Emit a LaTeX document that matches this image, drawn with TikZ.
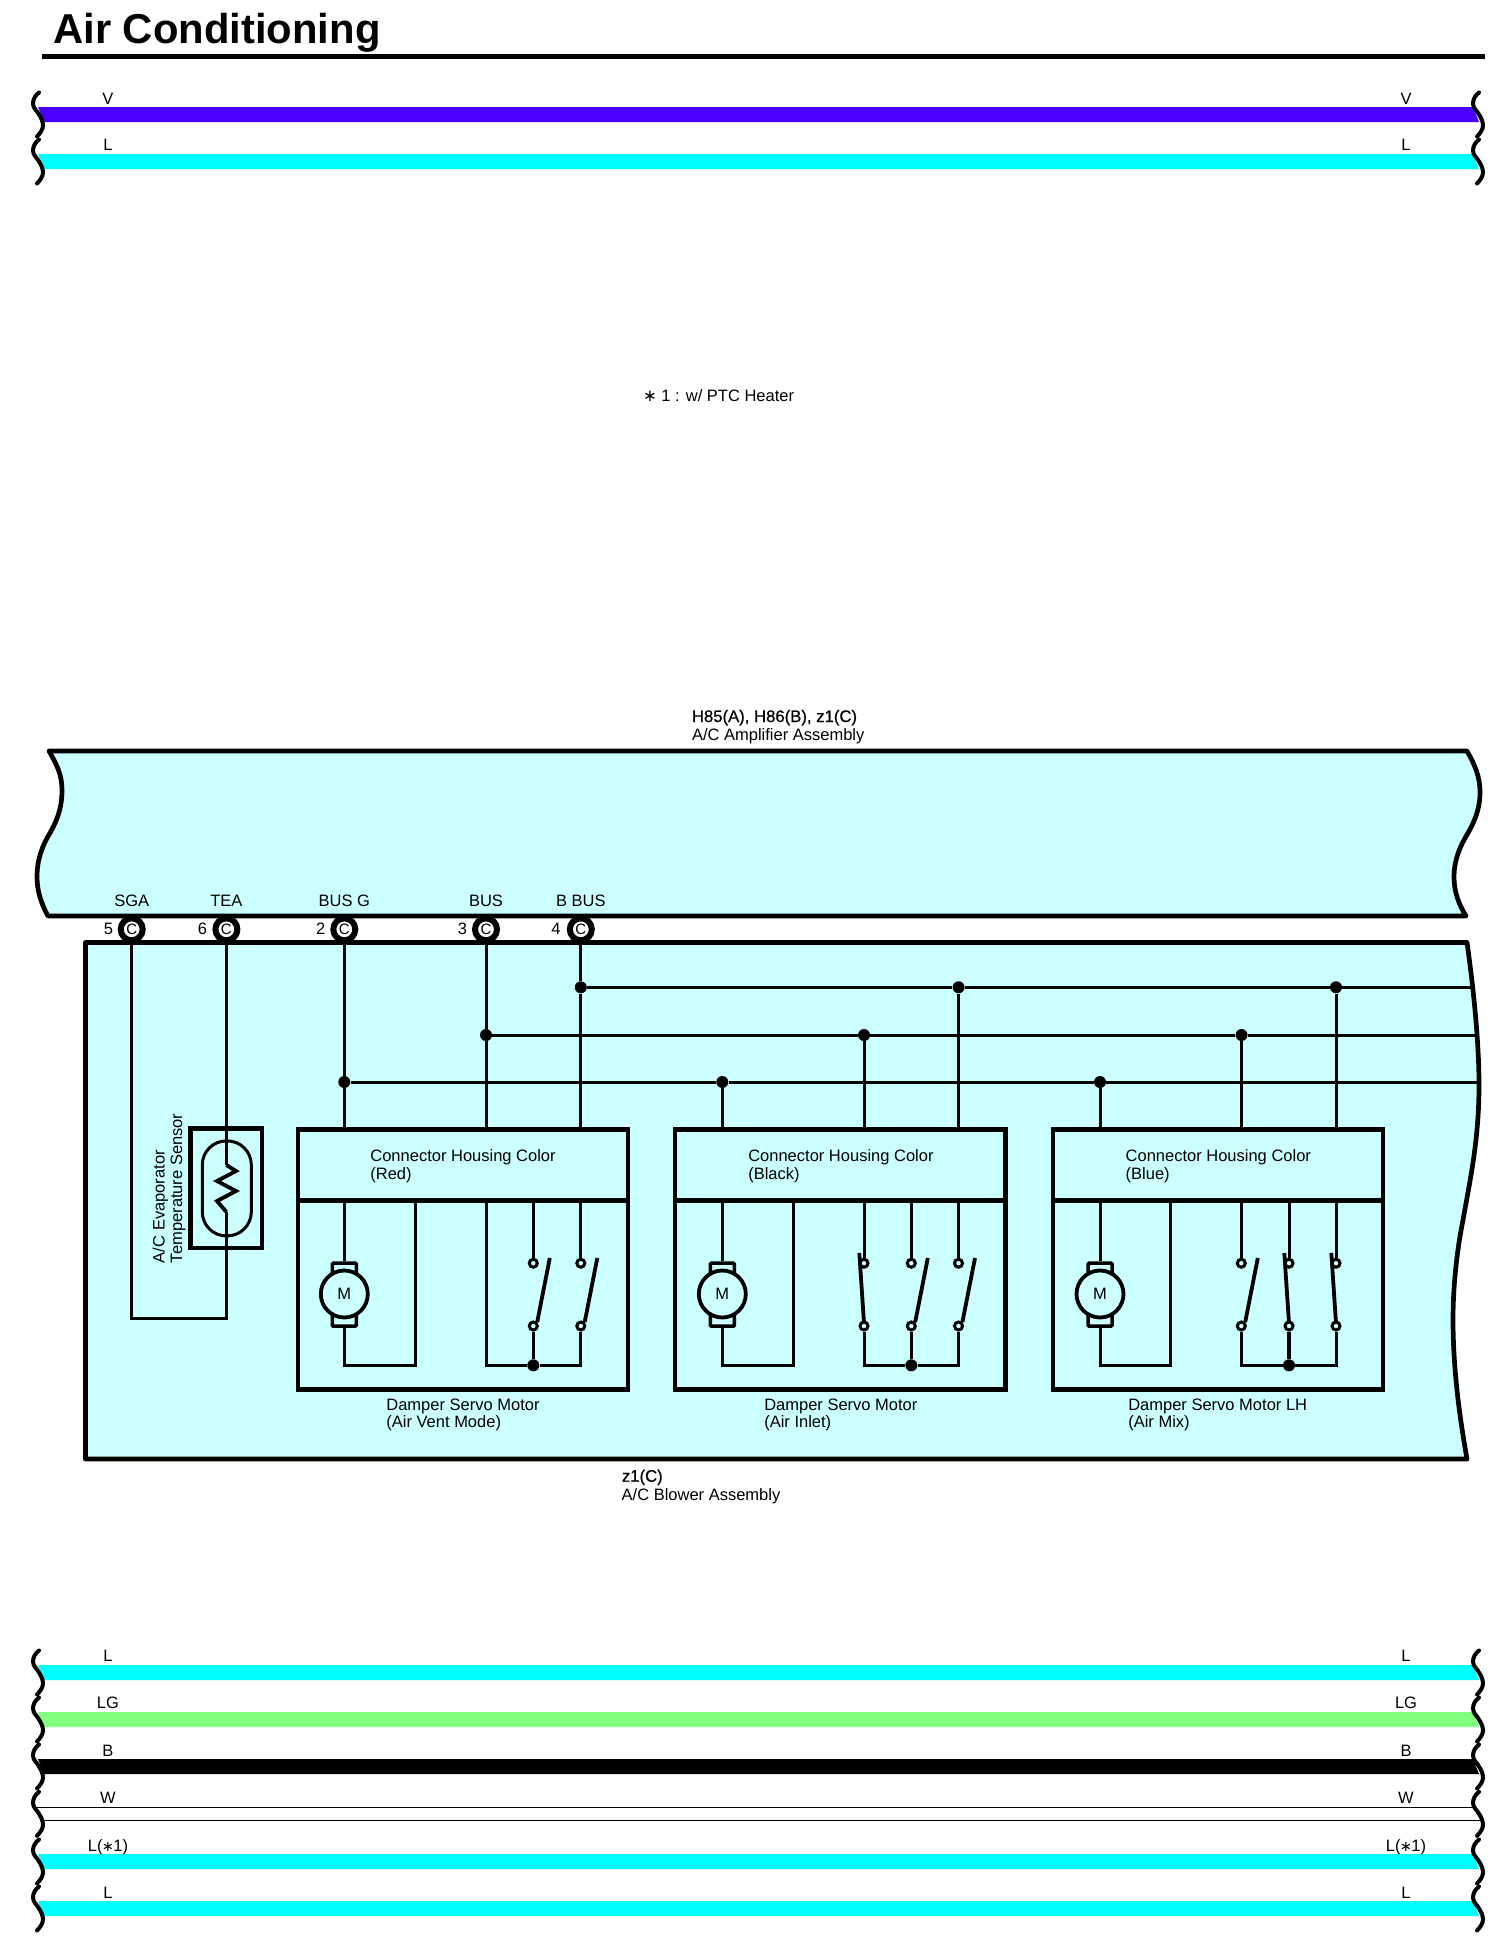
\documentclass[tikz,border=0pt]{standalone}
\usepackage{fontspec}
\setmainfont{Liberation Sans}
\newfontfamily\dejavu{DejaVu Sans}
\newfontfamily\semibold[FakeBold=0.6]{Liberation Sans}
\newcommand{\astmark}{\kern-0.6pt{\dejavu\fontsize{14.5}{17.5}\selectfont∗}\kern-0.6pt}
\definecolor{wireV}{HTML}{4B00FF}
\definecolor{wireL}{HTML}{00FFFF}
\definecolor{wireLG}{HTML}{80FF80}
\definecolor{panel}{HTML}{CCFFFF}
\tikzset{
  txt/.style={font=\fontsize{16.5}{17.5}\selectfont,inner sep=0pt,outer sep=0pt,align=left,text=black},
  wlabel/.style={txt,anchor=base},
  wave/.style={line width=4pt,line cap=round,black},
  panelline/.style={line width=4.7pt,fill=panel,line join=round},
  boxline/.style={line width=4.3pt,line join=miter},
  wire/.style={line width=3pt,line join=miter,line cap=butt},
  thick wire/.style={line width=4pt},
  pin/.style={circle,draw,line width=6pt,fill=white,minimum size=22pt,inner sep=0pt,font=\fontsize{15}{17}\selectfont},
  junction/.style={circle,fill=black,minimum size=12pt,inner sep=0pt},
  terminal/.style={circle,draw,line width=3pt,fill=panel,minimum size=8pt,inner sep=0pt},
  blade/.style={line width=3.8pt,line cap=butt},
  motorcap/.style={rectangle,draw,line width=3.5pt,fill=panel,rounded corners=1pt,minimum width=24pt,minimum height=63pt,inner sep=0pt},
  motorbody/.style={circle,draw,line width=3.8pt,fill=panel,minimum size=47pt,inner sep=0pt,font=\fontsize{16.5}{17.5}\selectfont},
}
% one coloured wire running across the page between two break marks
\newcommand{\breakmark}[2]{%
  \draw[wave,shift={(#1,#2)}] (39,-22) .. controls (35,-19) and (33,-15) .. (33,-11)
     .. controls (33,-6) and (37,-4) .. (39,0)
     .. controls (41,3) and (43,7) .. (43,11)
     .. controls (43,15) and (40,19) .. (37,22);}
\newcommand{\wirebar}[5]{% centre y, colour, label, baseline, name
  \fill[#2] (38,#1-7.5) -- (1473,#1-7.5) -- (1479,#1+7.5) -- (44,#1+7.5) -- cycle;
  \breakmark{0}{#1}\breakmark{1440}{#1}
  \node[wlabel] (#5l) at (108,#4) {#3};
  \node[wlabel] (#5r) at (1406,#4) {#3};}
\newcommand{\servobox}[5]{% prefix, left, motor x, return x, labels
  \draw[boxline] (#2,1129.5) rectangle (#2+330.3,1389.5);
  \draw[boxline] (#2,1200.5) -- (#2+330.3,1200.5);
  \coordinate (#1mt) at (#3,1200.5);
  \coordinate (#1rt) at (#4,1200.5);
  \coordinate (#1rb) at (#4,1365.3);
  \node[motorcap] (#1cap) at (#3,1294.7) {};
  \draw[wire] (#1mt) -- (#1cap.north);
  \draw[wire] (#1cap.south) |- (#1rb) -- (#1rt);
  \node[motorbody] (#1m) at (#3,1294) {M};}
\newcommand{\sw}[3]{% name, x, 0 = open / 1 = closed
  \node[terminal] (#1u) at (#2,1263.2) {};
  \node[terminal] (#1d) at (#2,1326) {};
  \coordinate (#1t) at (#2,1200.5);
  \coordinate (#1b) at (#2,1365.3);
  \draw[wire] (#1t) -- (#1u.north);
  \ifnum#3=0
    \draw[blade] (#1d.north east) -- (#2+16.5,1258);
  \else
    \draw[blade] (#2,1323) -- (#2-4.7,1253);
  \fi}
\begin{document}
\begin{tikzpicture}[x=1pt,y=-1pt]
\useasboundingbox (0,0) rectangle (1512,1959);
\fill[white] (0,0) rectangle (1512,1959);

% title
\node[inner sep=0pt,anchor=base west,font=\fontsize{41.8}{44}\selectfont\bfseries] (title) at (53,44) {Air Conditioning};
\coordinate (ruleL) at (42,56.5);
\coordinate (ruleR) at (1485,56.5);
\draw[line width=5pt] (ruleL) -- (ruleR);

% wire bars, top
\wirebar{114.5}{wireV}{V}{104}{tv}
\wirebar{161.5}{wireL}{L}{150.7}{tl}

\node[txt,anchor=base west] (note) at (643,401.7) {{\dejavu∗} 1 : w/ PTC Heater};

% amplifier
\node[anchor=base west,inner sep=0pt,font=\fontsize{16.7}{17.5}\selectfont\semibold] (ampcode) at (691.7,722) {H85(A), H86(B), z1(C)};
\node[txt,anchor=base west] (ampname) at (692,740) {A/C Amplifier Assembly};
\draw[panelline] (49,751) -- (1467,751)
   .. controls (1475,765) and (1480,777) .. (1480,792)
   .. controls (1480,810) and (1474,822) .. (1468,833)
   .. controls (1460,846) and (1454,860) .. (1454,877)
   .. controls (1454,892) and (1459,905) .. (1466,916)
   -- (48,916)
   .. controls (42,905) and (37,892) .. (37,877)
   .. controls (37,860) and (42,846) .. (50,833)
   .. controls (56,822) and (62,810) .. (62,790)
   .. controls (62,775) and (57,765) .. (49,751) -- cycle;

% blower assembly
\draw[panelline] (85.4,942.5) -- (1467,942.5)
   .. controls (1473,985) and (1479,1040) .. (1479,1085)
   .. controls (1479,1140) and (1470,1180) .. (1463,1220)
   .. controls (1456,1255) and (1453,1290) .. (1453,1320)
   .. controls (1453,1370) and (1460,1420) .. (1467,1459)
   -- (85.4,1459) -- cycle;
\node[anchor=base west,inner sep=0pt,font=\fontsize{16.7}{17.5}\selectfont\semibold] (blowcode) at (621.7,1481.7) {z1(C)};
\node[txt,anchor=base west] (blowname) at (621.7,1500.7) {A/C Blower Assembly};

% pin labels
\foreach \nm/\xx/\lab in {sga/131.7/SGA,tea/226.4/TEA,busg/344.3/BUS G,bus/486/BUS,bbus/580.8/B BUS}{
  \node[wlabel] (l\nm) at (\xx,906.7) {\lab};
}
% pins
\node[pin] (sga) at (131.7,929.3) {C};
\node[pin] (tea) at (226.4,929.3) {C};
\node[pin] (busg) at (344.3,929.3) {C};
\node[pin] (bus) at (486,929.3) {C};
\node[pin] (bbus) at (580.8,929.3) {C};
\foreach \nm/\xx/\lab in {5/108.4/5,6/202.4/6,2/320.7/2,3/462.5/3,4/556/4}{
  \node[wlabel] (n\nm) at (\xx,934.6) {\lab};
}

% sensor
\node[rectangle,draw,line width=4.5pt,minimum width=71.5pt,minimum height=119.4pt,inner sep=0pt,fill=panel] (senbox) at (226.4,1188.3) {};
\node[rectangle,draw,line width=3pt,rounded corners=24pt,minimum width=49pt,minimum height=95pt,inner sep=0pt,fill=panel] (senpill) at (226.8,1188.4) {};
\coordinate (ztop) at (226.4,1165);
\coordinate (zbot) at (226.4,1212);
\coordinate (loopb) at (226.4,1318.4);
\draw[wire] (tea.south) -- (ztop);
\draw[line width=3.8pt,line join=miter] (ztop) -- (236,1171) -- (217,1181) -- (236,1191) -- (217,1201) -- (zbot);
\draw[wire,line join=miter] (zbot) -- (loopb) -| (sga.south);
\node[txt,rotate=90,anchor=south west] (senlab) at (185.5,1263) {A/C Evaporator\\Temperature Sensor};

% servo motors
\servobox{a}{298}{344.3}{415.4}{}
\servobox{b}{675.3}{722.3}{793.3}{}
\servobox{c}{1052.7}{1100}{1170.7}{}

% bus lines and junctions
\node[junction] (ja1) at (580.8,987.3) {};
\node[junction] (ja2) at (958.6,987.3) {};
\node[junction] (ja3) at (1336,987.3) {};
\node[junction] (jb1) at (486,1035) {};
\node[junction] (jb2) at (864,1035) {};
\node[junction] (jb3) at (1241.5,1035) {};
\node[junction] (jc1) at (344.3,1082) {};
\node[junction] (jc2) at (722.3,1082) {};
\node[junction] (jc3) at (1100,1082) {};
\coordinate (enda) at (1471,987.3);
\coordinate (endb) at (1477,1035);
\coordinate (endc) at (1479,1082);
\draw[line width=2.6pt] (ja1) -- (ja2) -- (ja3) -- (enda);
\draw[line width=3pt] (jb1) -- (jb2) -- (jb3) -- (endb);
\draw[line width=3pt] (jc1) -- (jc2) -- (jc3) -- (endc);
\draw[wire] (busg.south) -- (jc1) -- (344.3,1129.5);
\draw[wire] (bus.south) -- (jb1) -- (486,1129.5);
\draw[wire] (bbus.south) -- (ja1) -- (580.8,1129.5);
\draw[wire] (jc2) -- (722.3,1129.5);
\draw[wire] (jb2) -- (864,1129.5);
\draw[wire] (ja2) -- (958.6,1129.5);
\draw[wire] (jc3) -- (1100,1129.5);
\draw[wire] (jb3) -- (1241.5,1129.5);
\draw[wire] (ja3) -- (1336,1129.5);

% switches, Air Vent Mode
\coordinate (a0t) at (486,1200.5);
\sw{a1}{533.3}{0}\sw{a2}{580.8}{0}
\node[junction] (ja) at (533.3,1365.3) {};
\draw[wire] (a0t) |- (ja);
\draw[wire] (ja) -| (a2d.south);
\draw[wire] (a1d.south) -- (ja);
% switches, Air Inlet
\sw{b1}{864}{1}\sw{b2}{911.3}{0}\sw{b3}{958.5}{0}
\node[junction] (jbb) at (911.3,1365.3) {};
\draw[wire] (b1d.south) |- (jbb);
\draw[wire] (jbb) -| (b3d.south);
\draw[wire] (b2d.south) -- (jbb);
% switches, Air Mix
\sw{c1}{1241.3}{0}\sw{c2}{1289}{1}\sw{c3}{1336}{1}
\node[junction] (jcc) at (1289,1365.3) {};
\draw[wire] (c1d.south) |- (jcc);
\draw[wire] (jcc) -| (c3d.south);
\draw[line width=4pt] (c2d.south) -- (jcc);

% servo labels
\node[txt,anchor=south west] (ha) at (370.4,1182.5) {Connector Housing Color\\(Red)};
\node[txt,anchor=south west] (hb) at (748.3,1182.5) {Connector Housing Color\\(Black)};
\node[txt,anchor=south west] (hc) at (1125.7,1182.5) {Connector Housing Color\\(Blue)};
\node[txt,anchor=south west] (da) at (386.4,1431) {Damper Servo Motor\\(Air Vent Mode)};
\node[txt,anchor=south west] (db) at (764.3,1431) {Damper Servo Motor\\(Air Inlet)};
\node[txt,anchor=south west] (dc) at (1128.3,1431) {Damper Servo Motor LH\\(Air Mix)};

% wire bars, bottom
\wirebar{1672.5}{wireL}{L}{1661.7}{bl}
\wirebar{1719.5}{wireLG}{LG}{1708.3}{blg}
\wirebar{1766.5}{black}{B}{1756.7}{bb}
\coordinate (wtl) at (36,1807.3);
\coordinate (wtr) at (1475,1807.3);
\coordinate (wbl) at (41,1820.3);
\coordinate (wbr) at (1481,1820.3);
\draw[line width=1.2pt] (wtl) -- (wtr);
\draw[line width=1.2pt] (wbl) -- (wbr);
\breakmark{0}{1813.8}\breakmark{1440}{1813.8}
\node[wlabel] (bwl) at (108,1803.3) {W};
\node[wlabel] (bwr) at (1406,1803.3) {W};
\wirebar{1861.5}{wireL}{L(\astmark 1)}{1851.7}{bs}
\wirebar{1908.5}{wireL}{L}{1898.3}{bk}
\end{tikzpicture}
\end{document}
